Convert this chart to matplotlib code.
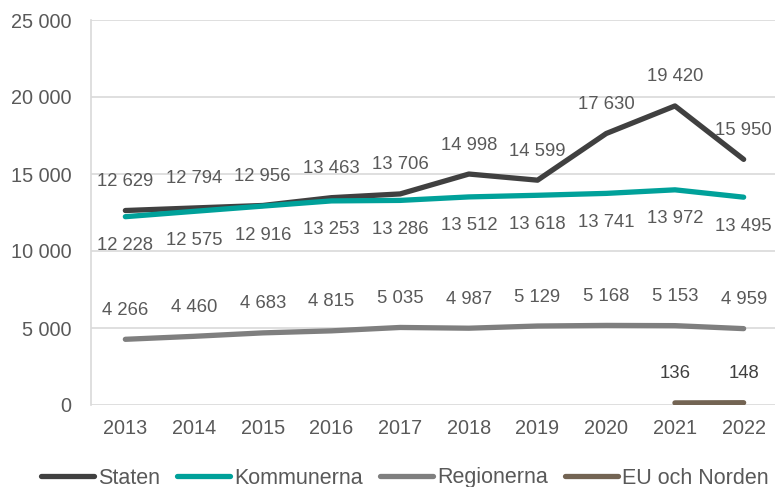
import matplotlib
matplotlib.use("Agg")
import matplotlib.pyplot as plt
from matplotlib.ticker import FuncFormatter
import numpy as np

years = ["2013", "2014", "2015", "2016", "2017", "2018", "2019", "2020", "2021", "2022"]
staten = [12629, 12794, 12956, 13463, 13706, 14998, 14599, 17630, 19420, 15950]
kommunerna = [12228, 12575, 12916, 13253, 13286, 13512, 13618, 13741, 13972, 13495]
regionerna = [4266, 4460, 4683, 4815, 5035, 4987, 5129, 5168, 5153, 4959]
eu_years = ["2021", "2022"]
eu_norden = [136, 148]

yticks = [0, 5000, 10000, 15000, 20000, 25000]

plt.rcParams['font.family'] = ['Liberation Sans', 'DejaVu Sans']

fig = plt.figure(figsize=(7.75, 4.87), dpi=100)
ax = fig.add_axes([91/775, 82/487, (778-91)/775, 385/487])

x = np.arange(len(years))
xe = np.array([years.index(y) for y in eu_years])

series = [
    ("Staten", staten, x, "#404040", 1),
    ("Kommunerna", kommunerna, x, "#00A19A", -1),
    ("Regionerna", regionerna, x, "#7F7F7F", 1),
    ("EU och Norden", eu_norden, xe, "#736453", 1),
]

fmt = lambda v: f"{int(v):,}".replace(",", " ")

for name, vals, xs, col, side in series:
    ax.plot(xs, vals, color=col, lw=3.8, solid_capstyle='round', label=name, zorder=3)

for name, vals, xs, col, side in series:
    tcol = "#404040" if name == "EU och Norden" else "#595959"
    for xi, v in zip(xs, vals):
        ax.annotate(fmt(v), (xi, v), xytext=(0, 29 * side), textcoords='offset pixels',
                    ha='center', va='center', fontsize=13.3, color=tcol, zorder=4)

ax.set_xlim(-0.5, len(years) - 0.5)
ax.set_ylim(0, 25000)
ax.set_xticks(x)
ax.set_xticklabels(years)
ax.set_yticks(yticks)
ax.yaxis.set_major_formatter(FuncFormatter(lambda v, p: fmt(v)))
ax.tick_params(axis='both', length=0, labelsize=14.3, colors="#595959")
ax.tick_params(axis='y', pad=14)
ax.tick_params(axis='x', pad=10)
ax.grid(axis='y', color="#D9D9D9", lw=1.2, zorder=0)
for s in ['top', 'right', 'bottom']:
    ax.spines[s].set_visible(False)
ax.spines['left'].set_color("#D9D9D9")
ax.spines['left'].set_linewidth(1.2)
ax.set_axisbelow(True)

fig.legend(loc='center', bbox_to_anchor=(405/775, 1 - 478/487), ncol=4, frameon=False,
           fontsize=15.5, handlelength=2.45, handletextpad=0.2, columnspacing=0.8,
           labelcolor="#595959", borderaxespad=0)

fig.savefig("out.png", dpi=100)
